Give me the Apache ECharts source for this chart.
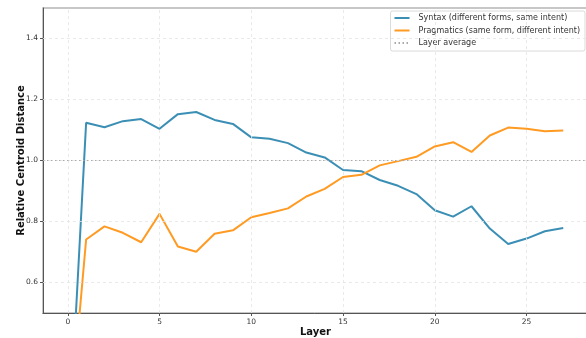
<!DOCTYPE html>
<html>
<head>
<meta charset="utf-8">
<script src="https://cdn.jsdelivr.net/npm/echarts@6/dist/echarts.min.js"></script>
<style>
  html, body { margin: 0; padding: 0; background: #fff; }
  #chart { width: 586px; height: 338px; }
</style>
</head>
<body>
<div id="chart"></div>
<script>
// Layer index 0..27
const layers = [0, 1, 2, 3, 4, 5, 6, 7, 8, 9, 10, 11, 12, 13, 14, 15, 16, 17, 18, 19, 20, 21, 22, 23, 24, 25, 26, 27];

// Relative centroid distance per layer
const syntaxValues = [0.00, 1.124, 1.109, 1.129, 1.136, 1.104, 1.152, 1.159, 1.133, 1.120, 1.076, 1.071, 1.057, 1.026,
  1.010, 0.969, 0.965, 0.936, 0.917, 0.890, 0.837, 0.816, 0.850, 0.777, 0.726, 0.744, 0.768, 0.779];
const pragmaticsValues = [0.06, 0.741, 0.784, 0.763, 0.732, 0.825, 0.718, 0.701, 0.760, 0.771, 0.814, 0.828, 0.843, 0.882,
  0.907, 0.946, 0.953, 0.984, 0.998, 1.012, 1.046, 1.060, 1.028, 1.082, 1.108, 1.104, 1.096, 1.098];
const layerAverage = 1.0;

// Axis ticks
const xTicks = [0, 5, 10, 15, 20, 25];
const yTicks = [0.6, 0.8, 1.0, 1.2, 1.4];

const seriesNames = {
  syntax: 'Syntax (different forms, same intent)',
  pragmatics: 'Pragmatics (same form, different intent)',
  average: 'Layer average'
};

const pairs = vals => layers.map((l, i) => [l, vals[i]]);

const gridLineStyle = { color: '#e4e4e4', width: 0.8, type: [3, 3] };
const avgLineStyle = { color: '#aaaaaa', width: 1.2, type: [1.5, 2.5] };

const chart = echarts.init(document.getElementById('chart'), null, { renderer: 'canvas' });
chart.setOption({
  animation: false,
  backgroundColor: '#fff',
  grid: {
    left: 43, top: 8, right: -2, bottom: 25,
    outerBoundsMode: 'none', containLabel: false,
    show: true, borderColor: '#b5b5b5', borderWidth: 1.5, backgroundColor: 'transparent'
  },
  legend: {
    orient: 'vertical',
    right: 1, top: 11,
    itemWidth: 15, itemHeight: 6, itemGap: 4.5,
    padding: [3, 5, 4, 3],
    backgroundColor: 'rgba(255,255,255,0.9)',
    borderColor: '#d0d0d0', borderWidth: 0.8, borderRadius: 2,
    itemStyle: { opacity: 0 },
    textStyle: { fontFamily: 'DejaVu Sans', fontSize: 8, color: '#333', padding: [0, 0, 0, 4] },
    data: [seriesNames.syntax, seriesNames.pragmatics, seriesNames.average]
  },
  xAxis: {
    type: 'value',
    min: -1.35, max: 28.35,
    name: 'Layer', nameLocation: 'middle', nameGap: 14, nameMoveOverlap: false,
    nameTextStyle: { fontFamily: 'DejaVu Sans', fontSize: 10, fontWeight: 'bold', color: '#111' },
    axisLine: { show: true, onZero: false, lineStyle: { color: '#555', width: 1 } },
    axisTick: { show: true, length: 3, customValues: xTicks, lineStyle: { color: '#555' } },
    axisLabel: { customValues: xTicks, margin: 5, fontFamily: 'DejaVu Sans', fontSize: 7.5, color: '#333' },
    splitLine: { show: false }
  },
  yAxis: {
    type: 'value',
    min: 0.5, max: 1.5,
    name: 'Relative Centroid Distance', nameLocation: 'middle', nameGap: 17, nameMoveOverlap: false,
    nameTextStyle: { fontFamily: 'DejaVu Sans', fontSize: 10, fontWeight: 'bold', color: '#111' },
    axisLine: { show: true, onZero: false, lineStyle: { color: '#555', width: 1 } },
    axisTick: { show: true, length: 3, customValues: yTicks, lineStyle: { color: '#555' } },
    axisLabel: { customValues: yTicks, margin: 5, fontFamily: 'DejaVu Sans', fontSize: 7.5, color: '#333',
      formatter: v => v.toFixed(1) },
    splitLine: { show: false }
  },
  series: [
    {
      // grid lines drawn at the tick positions
      type: 'line', name: 'grid', data: [], silent: true, z: 0,
      markLine: {
        silent: true, symbol: 'none', label: { show: false },
        lineStyle: gridLineStyle,
        data: xTicks.map(v => ({ xAxis: v })).concat(yTicks.map(v => ({ yAxis: v })))
      }
    },
    {
      name: seriesNames.syntax, type: 'line', data: pairs(syntaxValues),
      showSymbol: false, symbol: 'none', clip: true, z: 3,
      lineStyle: { color: '#3B8FB5', width: 2 }, itemStyle: { color: '#3B8FB5' }
    },
    {
      name: seriesNames.pragmatics, type: 'line', data: pairs(pragmaticsValues),
      showSymbol: false, symbol: 'none', clip: true, z: 3,
      lineStyle: { color: '#FF9A22', width: 2 }, itemStyle: { color: '#FF9A22' }
    },
    {
      name: seriesNames.average, type: 'line', data: [], symbol: 'none', z: 2,
      lineStyle: avgLineStyle, itemStyle: { color: '#aaaaaa' },
      markLine: {
        silent: true, symbol: 'none', label: { show: false },
        lineStyle: avgLineStyle,
        data: [{ yAxis: layerAverage }]
      }
    }
  ]
});
</script>
</body>
</html>
